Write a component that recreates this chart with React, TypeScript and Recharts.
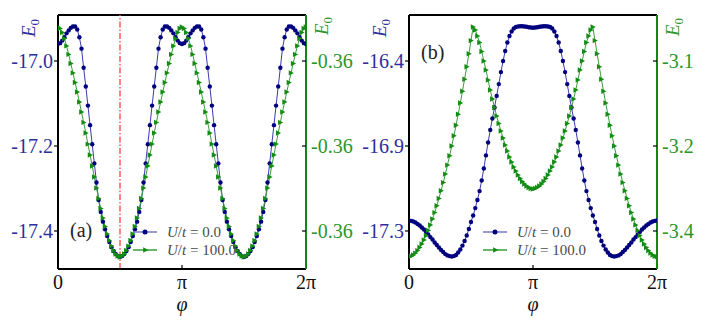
import React from 'react';
import { LineChart, Line, XAxis, YAxis, ReferenceLine, Legend } from 'recharts';

const TWO_PI = 2 * Math.PI;
const N_STEPS = 116; // phi sampled on a uniform grid 0..2pi
const phi = Array.from({ length: N_STEPS + 1 }, (_, i) => (i * TWO_PI) / N_STEPS);

// panel (a): E0 for U/t = 0.0 (left axis) and U/t = 100.0 (right axis)
const aU0 = [
  -16.960, -16.958, -16.952, -16.944, -16.935, -16.928, -16.922, -16.919, -16.919, -16.926,
  -16.944, -16.971, -17.016, -17.060, -17.105, -17.151, -17.196, -17.241, -17.286, -17.327,
  -17.355, -17.378, -17.396, -17.412, -17.426, -17.438, -17.447, -17.454, -17.459, -17.461,
  -17.459, -17.454, -17.447, -17.438, -17.426, -17.412, -17.396, -17.378, -17.355, -17.327,
  -17.286, -17.241, -17.196, -17.151, -17.105, -17.060, -17.016, -16.971, -16.944, -16.926,
  -16.919, -16.919, -16.922, -16.928, -16.935, -16.944, -16.952, -16.958, -16.960,
  -16.958, -16.952, -16.944, -16.935, -16.928, -16.922, -16.919, -16.919, -16.926, -16.944,
  -16.971, -17.016, -17.060, -17.105, -17.151, -17.196, -17.241, -17.286, -17.327, -17.355,
  -17.378, -17.396, -17.412, -17.426, -17.438, -17.447, -17.454, -17.459, -17.461,
  -17.459, -17.454, -17.447, -17.438, -17.426, -17.412, -17.396, -17.378, -17.355, -17.327,
  -17.286, -17.241, -17.196, -17.151, -17.105, -17.060, -17.016, -16.971, -16.944, -16.926,
  -16.919, -16.919, -16.922, -16.928, -16.935, -16.944, -16.952, -16.958, -16.960,
];

const aU100 = [
  -0.35440, -0.35447, -0.35466, -0.35494, -0.35529, -0.35569, -0.35612, -0.35656, -0.35701, -0.35746,
  -0.35793, -0.35840, -0.35889, -0.35939, -0.35991, -0.36042, -0.36094, -0.36146, -0.36198, -0.36247,
  -0.36294, -0.36339, -0.36379, -0.36414, -0.36445, -0.36471, -0.36492, -0.36508, -0.36518, -0.36522,
  -0.36518, -0.36508, -0.36492, -0.36471, -0.36445, -0.36414, -0.36379, -0.36339, -0.36294, -0.36247,
  -0.36198, -0.36146, -0.36094, -0.36042, -0.35991, -0.35939, -0.35889, -0.35840, -0.35793, -0.35746,
  -0.35701, -0.35656, -0.35612, -0.35569, -0.35529, -0.35494, -0.35466, -0.35447, -0.35440,
  -0.35447, -0.35466, -0.35494, -0.35529, -0.35569, -0.35612, -0.35656, -0.35701, -0.35746, -0.35793,
  -0.35840, -0.35889, -0.35939, -0.35991, -0.36042, -0.36094, -0.36146, -0.36198, -0.36247, -0.36294,
  -0.36339, -0.36379, -0.36414, -0.36445, -0.36471, -0.36492, -0.36508, -0.36518, -0.36522,
  -0.36518, -0.36508, -0.36492, -0.36471, -0.36445, -0.36414, -0.36379, -0.36339, -0.36294, -0.36247,
  -0.36198, -0.36146, -0.36094, -0.36042, -0.35991, -0.35939, -0.35889, -0.35840, -0.35793, -0.35746,
  -0.35701, -0.35656, -0.35612, -0.35569, -0.35529, -0.35494, -0.35466, -0.35447, -0.35440,
];

// panel (b)
const bU0 = [
  -17.263, -17.265, -17.269, -17.274, -17.282, -17.290, -17.301, -17.312, -17.325, -17.339,
  -17.353, -17.366, -17.382, -17.396, -17.409, -17.423, -17.434, -17.445, -17.452, -17.456,
  -17.458, -17.456, -17.450, -17.436, -17.420, -17.399, -17.374, -17.344, -17.309, -17.271,
  -17.236, -17.196, -17.152, -17.104, -17.047, -16.982, -16.911, -16.841, -16.773, -16.711,
  -16.652, -16.589, -16.525, -16.460, -16.400, -16.346, -16.300, -16.265, -16.240, -16.224,
  -16.216, -16.213, -16.212, -16.212, -16.213, -16.215, -16.217, -16.219, -16.220,
  -16.219, -16.217, -16.215, -16.213, -16.212, -16.212, -16.213, -16.216, -16.224, -16.240,
  -16.265, -16.300, -16.346, -16.400, -16.460, -16.525, -16.589, -16.652, -16.711, -16.773,
  -16.841, -16.911, -16.982, -17.047, -17.104, -17.152, -17.196, -17.236, -17.271, -17.309,
  -17.344, -17.374, -17.399, -17.420, -17.436, -17.450, -17.456, -17.458, -17.456, -17.452,
  -17.445, -17.434, -17.423, -17.409, -17.396, -17.382, -17.366, -17.353, -17.339, -17.325,
  -17.312, -17.301, -17.290, -17.282, -17.274, -17.269, -17.265, -17.263,
];

const bU100 = [
  -3.4023, -3.4015, -3.3995, -3.3964, -3.3923, -3.3873, -3.3814, -3.3748, -3.3673, -3.3590,
  -3.3500, -3.3402, -3.3297, -3.3183, -3.3063, -3.2936, -3.2803, -3.2663, -3.2515, -3.2360,
  -3.2200, -3.2032, -3.1859, -3.1678, -3.1492, -3.1299, -3.1100, -3.0894, -3.0681, -3.0464,
  -3.0240, -3.0289, -3.0388, -3.0495, -3.0644, -3.0800, -3.0948, -3.1113, -3.1278, -3.1426,
  -3.1566, -3.1706, -3.1829, -3.1953, -3.2068, -3.2184, -3.2282, -3.2381, -3.2464, -3.2546,
  -3.2612, -3.2678, -3.2735, -3.2785, -3.2826, -3.2859, -3.2884, -3.2900, -3.2908,
  -3.2900, -3.2884, -3.2859, -3.2826, -3.2785, -3.2735, -3.2678, -3.2612, -3.2546, -3.2464,
  -3.2381, -3.2282, -3.2184, -3.2068, -3.1953, -3.1829, -3.1706, -3.1566, -3.1426, -3.1278,
  -3.1113, -3.0948, -3.0800, -3.0644, -3.0495, -3.0388, -3.0289, -3.0240, -3.0464, -3.0681,
  -3.0894, -3.1100, -3.1299, -3.1492, -3.1678, -3.1859, -3.2032, -3.2200, -3.2360, -3.2515,
  -3.2663, -3.2803, -3.2936, -3.3063, -3.3183, -3.3297, -3.3402, -3.3500, -3.3590, -3.3673,
  -3.3748, -3.3814, -3.3873, -3.3923, -3.3964, -3.3995, -3.4015, -3.4023,
];

const xTicks = [0, Math.PI, TWO_PI];
const xTickLabels = ['0', 'π', '2π'];
const aLeftTicks = [-17.4, -17.2, -17.0];
const aRightTicks = [-0.364, -0.36, -0.356];
const bLeftTicks = [-17.32, -16.86, -16.4];
const bRightTicks = [-3.36, -3.22, -3.08];
const legendLabels = ['0.0', '100.0'];

const SERIF = 'Liberation Serif, DejaVu Serif, serif';
const NAVY = '#00007f';
const BLUE_LINE = '#3c3cae';
const BLUE_TEXT = '#2e2e9c';
const GREEN = '#138c13';
const GREEN_LINE = '#3a9e3a';
const GREEN_TEXT = '#2a962a';
const GREEN_SPINE = '#118811';

const txt = (size: number, italic = false) => ({ fontFamily: SERIF, fontSize: size, fontStyle: italic ? 'italic' : 'normal' });

const CircleDot = (props: any) => {
  const { cx, cy, index } = props;
  if (cx == null || cy == null) return <g key={`c${index}`} />;
  return <circle key={`c${index}`} cx={cx} cy={cy} r={2.2} fill={NAVY} />;
};

const triPoints = (cx: number, cy: number) =>
  `${cx - 2.3},${cy - 2.7} ${cx - 2.3},${cy + 2.7} ${cx + 2.9},${cy}`;

const TriDot = (props: any) => {
  const { cx, cy, index } = props;
  if (cx == null || cy == null) return <g key={`t${index}`} />;
  return <polygon key={`t${index}`} points={triPoints(cx, cy)} fill={GREEN} />;
};

const makeLeftTick = (color: string, digits: number) => (props: any) => {
  const { x, y, payload } = props;
  return (
    <text x={x} y={y} textAnchor="end" dominantBaseline="central" fill={color} style={txt(20)}>
      {Number(payload.value).toFixed(digits)}
    </text>
  );
};

const makeRightTick = (color: string, digits: number) => (props: any) => {
  const { x, y, payload } = props;
  return (
    <g>
      <line x1={x - 9} x2={x - 5} y1={y} y2={y} stroke="#000" strokeWidth={1.2} />
      <text x={x} y={y} textAnchor="start" dominantBaseline="central" fill={color} style={txt(20)}>
        {Number(payload.value).toFixed(digits)}
      </text>
    </g>
  );
};

const XTick = (props: any) => {
  const { x, y, payload } = props;
  const i = xTicks.findIndex((t) => Math.abs(t - payload.value) < 1e-6);
  return (
    <g>
      {i === 1 && <line x1={x} x2={x} y1={y - 4} y2={y} stroke="#000" strokeWidth={1.2} />}
      <text x={x} y={y + 20} textAnchor="middle" fill="#111" style={txt(20)}>
        {xTickLabels[i]}
      </text>
    </g>
  );
};

const PhiLabel = (props: any) => {
  const { viewBox } = props;
  return (
    <text x={viewBox.x + viewBox.width / 2} y={viewBox.y + 42} textAnchor="middle" fill="#111" style={txt(20, true)}>
      φ
    </text>
  );
};

const LegendBox = () => (
  <svg width={120} height={38} style={{ display: 'block', overflow: 'visible' }}>
    {legendLabels.map((lab, i) => {
      const y = 9 + 18 * i;
      return (
        <g key={lab}>
          <line x1={0} x2={24} y1={y} y2={y} stroke={i === 0 ? '#7a7ac4' : GREEN_LINE} strokeWidth={1.5} />
          {i === 0 ? <circle cx={12} cy={y} r={2.5} fill={NAVY} /> : <polygon points={triPoints(12.5, y)} fill={GREEN} />}
          <text x={34} y={y + 5} fill="#4a4a4a" style={txt(15)}>
            <tspan style={{ fontStyle: 'italic' }}>U</tspan>/<tspan style={{ fontStyle: 'italic' }}>t</tspan> = {lab}
          </text>
        </g>
      );
    })}
  </svg>
);

type PanelProps = {
  left: number;
  leftW: number;
  rightW: number;
  u0: number[];
  u100: number[];
  lDomain: [number, number];
  rDomain: [number, number];
  lTicks: number[];
  rTicks: number[];
  lDigits: number;
  rDigits: number;
  legendLeft: number;
  markPhi?: number;
};

function Panel(p: PanelProps) {
  const rows = phi.map((v, i) => ({ phi: v, u0: p.u0[i], u100: p.u100[i] }));
  return (
    <div style={{ position: 'absolute', left: p.left, top: 0 }}>
      <LineChart width={353} height={331} data={rows} margin={{ top: 15, right: 0, bottom: 0, left: 0 }}>
        <XAxis dataKey="phi" type="number" domain={[0, TWO_PI]} ticks={xTicks} interval={0} allowDataOverflow
          height={62} tickSize={0} tickMargin={0} tickLine={false} tick={<XTick />}
          axisLine={{ stroke: '#000', strokeWidth: 2 }} label={<PhiLabel />} />
        <YAxis yAxisId="l" orientation="left" width={p.leftW} type="number" domain={p.lDomain} ticks={p.lTicks}
          interval={0} allowDataOverflow tickSize={4} tickMargin={1} tickLine={{ stroke: '#000', strokeWidth: 1.2 }}
          tick={makeLeftTick(BLUE_TEXT, p.lDigits)} axisLine={{ stroke: '#000', strokeWidth: 2 }} />
        <YAxis yAxisId="r" orientation="right" width={p.rightW} type="number" domain={p.rDomain} ticks={p.rTicks}
          interval={0} allowDataOverflow tickSize={0} tickMargin={5} tickLine={false}
          tick={makeRightTick(GREEN_TEXT, p.rDigits)} axisLine={{ stroke: GREEN_SPINE, strokeWidth: 2 }} />
        <ReferenceLine yAxisId="l" y={p.lDomain[1]} stroke="#000" strokeWidth={2} />
        {p.markPhi !== undefined && (
          <ReferenceLine yAxisId="l" x={p.markPhi} stroke="#ff4d4d" strokeWidth={1.4} strokeDasharray="6 2 1.5 2" />
        )}
        <Line yAxisId="l" dataKey="u0" stroke={BLUE_LINE} strokeWidth={1} dot={CircleDot} activeDot={false}
          isAnimationActive={false} />
        <Line yAxisId="r" dataKey="u100" stroke={GREEN_LINE} strokeWidth={1} dot={TriDot} activeDot={false}
          isAnimationActive={false} />
        <Legend layout="vertical" align="center" verticalAlign="middle" content={<LegendBox />}
          wrapperStyle={{ left: p.legendLeft, top: 223, width: 'auto', height: 'auto' }} />
      </LineChart>
    </div>
  );
}

const E0 = ({ x, y, color }: { x: number; y: number; color: string }) => (
  <text transform={`translate(${x},${y}) rotate(-90)`} textAnchor="middle" fill={color} style={txt(19)}>
    <tspan style={{ fontStyle: 'italic' }}>E</tspan>
    <tspan style={{ fontSize: 13 }} dy={3.5}>0</tspan>
  </text>
);

export default function App() {
  return (
    <div style={{ position: 'absolute', left: 0, top: 0, width: 706, height: 331, background: '#fff', overflow: 'hidden' }}>
      <Panel left={0} leftW={58} rightW={47} u0={aU0} u100={aU100}
        lDomain={[-17.4894, -16.8918]} rDomain={[-0.365788, -0.353835]}
        lTicks={aLeftTicks} rTicks={aRightTicks} lDigits={1} rDigits={2} legendLeft={133} markPhi={Math.PI / 2} />
      <Panel left={353} leftW={56} rightW={49} u0={bU0} u100={bU100}
        lDomain={[-17.5257, -16.1511]} rDomain={[-3.42259, -3.00424]}
        lTicks={bLeftTicks} rTicks={bRightTicks} lDigits={1} rDigits={1} legendLeft={130} />
      <svg width={706} height={331} style={{ position: 'absolute', left: 0, top: 0, pointerEvents: 'none' }}>
        <E0 x={35} y={28} color={BLUE_TEXT} />
        <E0 x={328} y={26} color={GREEN_TEXT} />
        <E0 x={386} y={28} color={BLUE_TEXT} />
        <E0 x={679} y={27} color={GREEN_TEXT} />
        <text x={70} y={237} fill="#222" style={txt(20)}>(a)</text>
        <text x={421} y={59} fill="#222" style={txt(20)}>(b)</text>
      </svg>
    </div>
  );
}
